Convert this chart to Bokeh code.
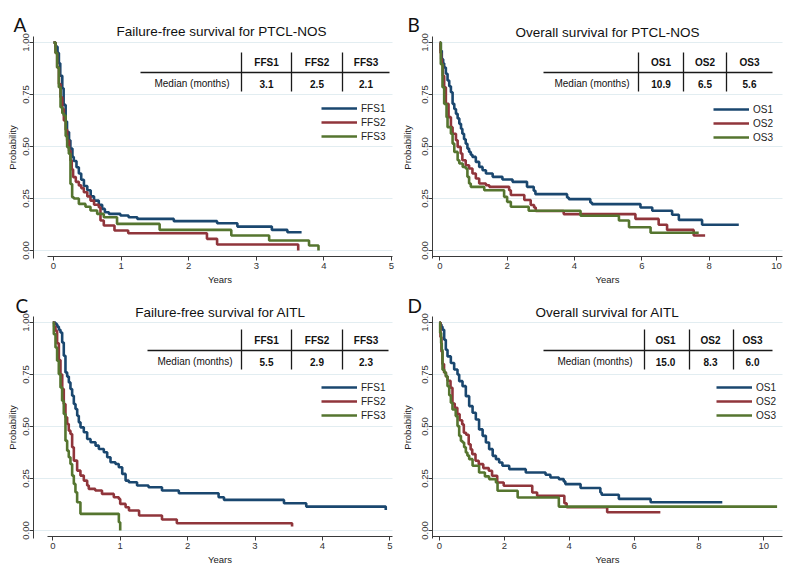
import math
from bokeh.plotting import figure
from bokeh.layouts import gridplot
from bokeh.models import Range1d, FixedTicker, Legend, LegendItem, NumeralTickFormatter
from bokeh.core.properties import value
from bokeh.embed import file_html
from bokeh.resources import INLINE

# ---------------- data (Kaplan-Meier steps: time in years, survival probability) ----------------
a_ffs1_t = [0, 0.03, 0.06, 0.08, 0.10, 0.13, 0.15, 0.18, 0.20, 0.23, 0.25, 0.28, 0.30, 0.34, 0.375, 0.41, 0.45, 0.50, 0.55, 0.60, 0.67, 0.72, 0.76, 0.82, 0.99, 1.11, 1.24, 1.78, 2.42, 2.72, 3.23, 3.46, 3.67]
a_ffs1_s = [1.0, 0.98, 0.95, 0.90, 0.84, 0.78, 0.70, 0.62, 0.57, 0.53, 0.49, 0.45, 0.43, 0.40, 0.37, 0.34, 0.31, 0.29, 0.26, 0.24, 0.22, 0.20, 0.184, 0.176, 0.168, 0.16, 0.152, 0.141, 0.131, 0.115, 0.099, 0.088, 0.088]
a_ffs2_t = [0, 0.03, 0.054, 0.08, 0.104, 0.13, 0.153, 0.18, 0.202, 0.23, 0.251, 0.27, 0.29, 0.33, 0.375, 0.41, 0.449, 0.50, 0.547, 0.60, 0.67, 0.695, 0.744, 0.902, 1.105, 2.27, 2.42, 3.62]
a_ffs2_s = [1.0, 0.95, 0.88, 0.80, 0.737, 0.68, 0.625, 0.58, 0.529, 0.48, 0.433, 0.39, 0.353, 0.33, 0.313, 0.30, 0.28, 0.26, 0.24, 0.22, 0.208, 0.144, 0.12, 0.096, 0.083, 0.056, 0.029, 0.0]
a_ffs3_t = [0, 0.03, 0.054, 0.079, 0.104, 0.13, 0.153, 0.18, 0.202, 0.227, 0.251, 0.276, 0.30, 0.375, 0.473, 0.547, 0.646, 0.744, 0.94, 1.57, 2.63, 3.19, 3.78, 3.92]
a_ffs3_s = [1.0, 0.95, 0.88, 0.785, 0.689, 0.66, 0.649, 0.55, 0.497, 0.465, 0.32, 0.256, 0.25, 0.224, 0.21, 0.192, 0.176, 0.16, 0.128, 0.099, 0.072, 0.048, 0.024, 0.0]

b_os1_t = [0, 0.03, 0.06, 0.1, 0.13, 0.18, 0.23, 0.28, 0.33, 0.38, 0.43, 0.48, 0.53, 0.58, 0.63, 0.67, 0.72, 0.77, 0.82, 0.87, 0.92, 0.97, 1.07, 1.17, 1.27, 1.37, 1.57, 1.86, 2.16, 2.59, 2.79, 2.84, 3.78, 3.83, 4.47, 4.52, 5.96, 6.31, 6.9, 7.1, 7.79, 8.88]
b_os1_s = [1.0, 0.96, 0.92, 0.90, 0.88, 0.85, 0.817, 0.79, 0.761, 0.705, 0.68, 0.657, 0.635, 0.609, 0.585, 0.561, 0.535, 0.513, 0.49, 0.474, 0.46, 0.45, 0.426, 0.402, 0.386, 0.37, 0.354, 0.341, 0.33, 0.306, 0.287, 0.271, 0.255, 0.247, 0.231, 0.223, 0.207, 0.191, 0.172, 0.147, 0.124, 0.124]
b_os2_t = [0, 0.02, 0.04, 0.06, 0.09, 0.13, 0.18, 0.26, 0.33, 0.38, 0.48, 0.53, 0.62, 0.67, 0.77, 0.87, 0.97, 1.07, 1.17, 1.37, 1.47, 2.06, 2.11, 2.51, 2.7, 2.8, 2.85, 3.68, 5.81, 6.5, 6.75, 7.54, 7.88]
b_os2_s = [1.0, 0.95, 0.92, 0.896, 0.84, 0.785, 0.705, 0.641, 0.593, 0.561, 0.53, 0.498, 0.466, 0.434, 0.41, 0.394, 0.37, 0.346, 0.322, 0.314, 0.306, 0.29, 0.267, 0.243, 0.219, 0.207, 0.19, 0.175, 0.152, 0.124, 0.099, 0.072, 0.072]
b_os3_t = [0, 0.03, 0.08, 0.13, 0.2, 0.23, 0.33, 0.38, 0.43, 0.53, 0.58, 0.68, 0.77, 0.82, 0.87, 0.92, 1.32, 1.91, 2.0, 2.11, 2.64, 4.18, 5.32, 5.62, 6.26, 7.69]
b_os3_s = [1.0, 0.896, 0.785, 0.705, 0.641, 0.593, 0.561, 0.514, 0.474, 0.434, 0.418, 0.402, 0.394, 0.354, 0.322, 0.306, 0.29, 0.258, 0.234, 0.21, 0.191, 0.167, 0.144, 0.112, 0.085, 0.085]

c_ffs1_t = [0, 0.04, 0.065, 0.09, 0.114, 0.139, 0.163, 0.188, 0.213, 0.238, 0.262, 0.287, 0.312, 0.337, 0.362, 0.386, 0.411, 0.46, 0.51, 0.56, 0.634, 0.683, 0.757, 0.807, 0.856, 0.93, 0.979, 1.03, 1.08, 1.128, 1.25, 1.42, 1.62, 1.87, 2.46, 2.54, 3.43, 3.76, 4.94]
c_ffs1_s = [1.0, 0.992, 0.98, 0.965, 0.952, 0.904, 0.84, 0.76, 0.74, 0.712, 0.68, 0.648, 0.608, 0.584, 0.552, 0.52, 0.496, 0.472, 0.44, 0.424, 0.408, 0.392, 0.376, 0.352, 0.328, 0.32, 0.304, 0.272, 0.24, 0.232, 0.216, 0.208, 0.192, 0.179, 0.16, 0.147, 0.131, 0.115, 0.099]
c_ffs2_t = [0, 0.02, 0.04, 0.064, 0.09, 0.114, 0.14, 0.163, 0.188, 0.213, 0.237, 0.262, 0.287, 0.312, 0.361, 0.41, 0.46, 0.51, 0.534, 0.63, 0.73, 0.905, 0.98, 1.0, 1.08, 1.13, 1.28, 1.62, 1.84, 3.55]
c_ffs2_s = [1.0, 0.98, 0.96, 0.90, 0.82, 0.75, 0.68, 0.608, 0.544, 0.512, 0.48, 0.464, 0.40, 0.336, 0.288, 0.264, 0.24, 0.216, 0.2, 0.192, 0.176, 0.16, 0.152, 0.128, 0.112, 0.096, 0.072, 0.053, 0.035, 0.019]
c_ffs3_t = [0, 0.015, 0.04, 0.064, 0.089, 0.114, 0.138, 0.163, 0.188, 0.213, 0.237, 0.262, 0.287, 0.312, 0.336, 0.361, 0.41, 0.98, 1.0]
c_ffs3_s = [1.0, 0.944, 0.88, 0.816, 0.752, 0.688, 0.624, 0.56, 0.432, 0.384, 0.352, 0.32, 0.264, 0.224, 0.184, 0.136, 0.08, 0.04, 0.0]

d_os1_t = [0, 0.03, 0.06, 0.093, 0.144, 0.195, 0.247, 0.35, 0.452, 0.555, 0.607, 0.71, 0.812, 0.915, 1.02, 1.12, 1.22, 1.33, 1.43, 1.53, 1.64, 1.74, 1.84, 1.94, 2.15, 2.66, 3.27, 3.42, 3.68, 3.83, 3.88, 4.35, 4.96, 5.0, 5.53, 6.51, 8.72]
d_os1_s = [1.0, 0.99, 0.98, 0.965, 0.917, 0.869, 0.837, 0.805, 0.774, 0.75, 0.718, 0.694, 0.646, 0.598, 0.566, 0.534, 0.486, 0.455, 0.423, 0.391, 0.359, 0.343, 0.327, 0.311, 0.295, 0.279, 0.268, 0.255, 0.247, 0.236, 0.223, 0.204, 0.183, 0.172, 0.152, 0.136, 0.136]
d_os2_t = [0, 0.03, 0.06, 0.09, 0.14, 0.2, 0.25, 0.34, 0.40, 0.47, 0.55, 0.62, 0.70, 0.75, 0.82, 0.90, 0.96, 1.01, 1.11, 1.21, 1.35, 1.52, 1.62, 1.78, 1.98, 2.86, 3.01, 3.85, 3.92, 5.17, 6.81]
d_os2_s = [1.0, 0.93, 0.86, 0.8, 0.76, 0.74, 0.72, 0.686, 0.61, 0.59, 0.56, 0.53, 0.51, 0.47, 0.46, 0.415, 0.39, 0.367, 0.335, 0.319, 0.30, 0.287, 0.263, 0.231, 0.215, 0.183, 0.167, 0.131, 0.112, 0.088, 0.088]
d_os3_t = [0, 0.02, 0.05, 0.07, 0.093, 0.15, 0.195, 0.247, 0.30, 0.35, 0.40, 0.50, 0.555, 0.607, 0.66, 0.71, 0.76, 0.812, 0.86, 0.915, 1.02, 1.22, 1.40, 1.53, 1.74, 1.79, 2.41, 3.68, 10.41]
d_os3_s = [1.0, 0.95, 0.90, 0.869, 0.773, 0.76, 0.742, 0.694, 0.65, 0.614, 0.582, 0.55, 0.502, 0.455, 0.43, 0.423, 0.40, 0.375, 0.36, 0.343, 0.311, 0.279, 0.26, 0.247, 0.231, 0.191, 0.159, 0.115, 0.115]

ffs_names = ["FFS1", "FFS2", "FFS3"]
os_names = ["OS1", "OS2", "OS3"]
a_medians = ["3.1", "2.5", "2.1"]
b_medians = ["10.9", "6.5", "5.6"]
c_medians = ["5.5", "2.9", "2.3"]
d_medians = ["15.0", "8.3", "6.0"]
median_label = "Median (months)"

y_ticks = [0, 0.25, 0.5, 0.75, 1.0]
x_ticks_5 = [0, 1, 2, 3, 4, 5]
x_ticks_10 = [0, 2, 4, 6, 8, 10]

COLORS = ["#1a476f", "#90353b", "#55752f"]
FONT = "Liberation Sans"


def panel(letter, title, names, series, medians, xticks, g):
    W, H = g["W"], g["H"]
    fl, fr, ft, fb = g["fl"], g["fr"], g["ft"], g["fb"]
    sx = g["sx"]
    sy = 208.0
    m = (fb - ft - sy) / 2.0

    # pixel (canvas-local) -> data helpers, the frame covers the whole canvas
    def X(px):
        return (px - g["x0"]) / sx

    def Y(py):
        return 1.0 - (py - (ft + m)) / sy

    p = figure(width=W, height=H, x_range=Range1d(X(0), X(W)), y_range=Range1d(Y(H), Y(0)),
               output_backend="svg", toolbar_location=None,
               min_border_left=0, min_border_right=0, min_border_top=0, min_border_bottom=0,
               outline_line_color=None, background_fill_color="white",
               border_fill_color="white")

    xa, ya = p.xaxis[0], p.yaxis[0]
    xa.fixed_location = Y(fb)
    ya.fixed_location = X(fl)
    xa.bounds = (X(g["xa0"]), X(fr))
    ya.bounds = (Y(fb + 2), Y(ft))
    xa.ticker = FixedTicker(ticks=xticks)
    ya.ticker = FixedTicker(ticks=y_ticks)
    ya.formatter = NumeralTickFormatter(format="0.00")
    for ax in (xa, ya):
        ax.axis_line_color = "#3a3a3a"
        ax.axis_line_width = 1
        ax.major_tick_line_color = "#3a3a3a"
        ax.major_tick_out = 4
        ax.major_tick_in = 0
        ax.minor_tick_line_color = None
        ax.major_label_text_font = FONT
        ax.major_label_text_font_size = "9.5px"
        ax.major_label_text_color = "#333333"
        ax.major_label_standoff = 2
        ax.axis_label_text_font = FONT
        ax.axis_label_text_font_size = "9.5px"
        ax.axis_label_text_font_style = "normal"
        ax.axis_label_text_color = "#222222"
        ax.axis_label_standoff = 2
    xa.axis_label = "Years"
    ya.axis_label = "Probability"
    ya.axis_label_standoff = g["ylab_off"]
    ya.major_label_orientation = "vertical"
    ya.major_label_standoff = 1
    p.xgrid.visible = False
    p.ygrid.visible = False

    # horizontal reference lines at the y ticks, spanning the plot region
    p.segment(x0=[X(fl)] * len(y_ticks), x1=[X(fr)] * len(y_ticks), y0=y_ticks, y1=y_ticks,
              line_color="#e2edf1", line_width=1)

    rends = []
    for (t, s), c in zip(series, COLORS):
        rends.append(p.step(x=t, y=s, mode="after", line_color=c, line_width=2.6))

    lx, ltop = g["leg"]
    legend = Legend(items=[LegendItem(label=n, renderers=[r]) for n, r in zip(names, rends)],
                    location=(lx, H - (ltop + 42)), orientation="vertical",
                    glyph_width=36, glyph_height=14, label_height=14,
                    spacing=0, padding=0, margin=0, label_standoff=4,
                    border_line_color=None, background_fill_alpha=0,
                    label_text_font=FONT, label_text_font_size="10px",
                    label_text_color="#222222")
    p.add_layout(legend)

    tb = g["tab"]
    p.segment(x0=[X(v) for v in tb["vx"]], x1=[X(v) for v in tb["vx"]],
              y0=[Y(tb["vy0"])] * 3, y1=[Y(tb["vy1"])] * 3,
              line_color="#1a1a1a", line_width=1.3)
    p.segment(x0=[X(tb["hx0"])], x1=[X(tb["hx1"])], y0=[Y(tb["hy"])], y1=[Y(tb["hy"])],
              line_color="#1a1a1a", line_width=1.3)
    p.text(x=[X(c) for c in tb["cols"]], y=[Y(tb["head_y"])] * 3, text=names,
           text_align="center", text_baseline="middle", text_font=value(FONT),
           text_font_size=value("10px"), text_font_style=value("bold"), text_color="#111111")
    p.text(x=[X(c) for c in tb["cols"]], y=[Y(tb["row_y"])] * 3, text=medians,
           text_align="center", text_baseline="middle", text_font=value(FONT),
           text_font_size=value("10px"), text_font_style=value("bold"), text_color="#111111")
    p.text(x=[X(tb["lab_r"])], y=[Y(tb["row_y"])], text=[median_label],
           text_align="right", text_baseline="middle", text_font=value(FONT),
           text_font_size=value("10px"), text_color="#111111")

    # panel letter and panel title
    p.text(x=[X(g["let"][0])], y=[Y(g["let"][1])], text=[letter],
           text_align="left", text_baseline="alphabetic", text_font=value("Lato"),
           text_font_size=value("19px"), text_color="#111111")
    p.text(x=[X(g["title"][0])], y=[Y(g["title"][1])], text=[title],
           text_align="center", text_baseline="alphabetic", text_font=value(FONT),
           text_font_size=value("13.5px"), text_color="#111111")
    return p


gA = dict(W=400, H=290, fl=33, fr=392, ft=36, fb=256, x0=53, sx=67.6, xa0=47, ylab_off=2,
          let=(13, 23.5), title=(221, 30.7), leg=(321, 101),
          tab=dict(vx=[241, 291, 342], vy0=52, vy1=91, hx0=140, hx1=389, hy=72,
                   head_y=62, row_y=83, lab_r=229, cols=[266, 316.5, 365.5]))
gB = dict(W=392, H=290, fl=32, fr=382, ft=36, fb=256, x0=39.3, sx=33.67, xa0=32, ylab_off=6,
          let=(7, 24), title=(207, 31.7), leg=(313, 102),
          tab=dict(vx=[238, 283, 326], vy0=52, vy1=91, hx0=143, hx1=372, hy=72,
                   head_y=62, row_y=83, lab_r=229, cols=[260.5, 304.5, 349]))
gC = dict(W=400, H=285, fl=33, fr=392, ft=26, fb=246, x0=52.3, sx=67.4, xa0=47, ylab_off=2,
          let=(15, 15), title=(220, 21.7), leg=(321, 90),
          tab=dict(vx=[241, 291, 342], vy0=39, vy1=79, hx0=147, hx1=388, hy=60,
                   head_y=50, row_y=71, lab_r=232, cols=[266, 316.5, 365.5]))
gD = dict(W=392, H=285, fl=32, fr=382, ft=26, fb=246, x0=39, sx=32.43, xa0=32, ylab_off=6,
          let=(7, 15), title=(207, 21.7), leg=(316, 90),
          tab=dict(vx=[244, 289, 333], vy0=39, vy1=79, hx0=143, hx1=372, hy=60,
                   head_y=50, row_y=71, lab_r=232, cols=[265, 310, 352]))

pA = panel("A", "Failure-free survival for PTCL-NOS", ffs_names,
           [(a_ffs1_t, a_ffs1_s), (a_ffs2_t, a_ffs2_s), (a_ffs3_t, a_ffs3_s)], a_medians, x_ticks_5, gA)
pB = panel("B", "Overall survival for PTCL-NOS", os_names,
           [(b_os1_t, b_os1_s), (b_os2_t, b_os2_s), (b_os3_t, b_os3_s)], b_medians, x_ticks_10, gB)
pC = panel("C", "Failure-free survival for AITL", ffs_names,
           [(c_ffs1_t, c_ffs1_s), (c_ffs2_t, c_ffs2_s), (c_ffs3_t, c_ffs3_s)], c_medians, x_ticks_5, gC)
pD = panel("D", "Overall survival for AITL", os_names,
           [(d_os1_t, d_os1_s), (d_os2_t, d_os2_s), (d_os3_t, d_os3_s)], d_medians, x_ticks_10, gD)

grid = gridplot([[pA, pB], [pC, pD]], toolbar_location=None)
open("out.html", "w").write(file_html(grid, INLINE))
